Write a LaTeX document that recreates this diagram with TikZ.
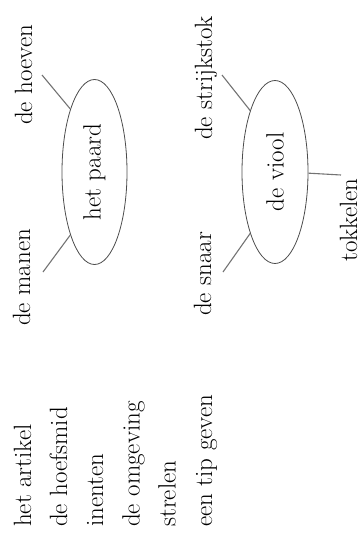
\documentclass[tikz,border=0pt]{standalone}
\usepackage{graphicx}
\usetikzlibrary{shapes.geometric}
\tikzset{
  lbl/.style={rotate=90, anchor=base west, inner sep=0pt, font=\fontsize{25}{30}\selectfont},
  oval/.style={ellipse, draw=black!70, line width=0.8pt, inner sep=0pt, font=\fontsize{25}{30}\selectfont},
  conn/.style={draw=black!55, line width=1.1pt}
}
\begin{document}
\begin{tikzpicture}[x=1pt,y=-1pt]
\useasboundingbox (0,0) rectangle (361,538);
% left word list
\node[lbl] (w1) at (31,527) {het artikel};
\node[lbl] (w2) at (67,527) {de hoefsmid};
\node[lbl] (w3) at (103,527) {inenten};
\node[lbl] (w4) at (139.5,527) {de omgeving};
\node[lbl] (w5) at (175.5,527) {strelen};
\node[lbl] (w6) at (212,527) {een tip geven};
% ellipses
\node[oval, minimum width=65pt, minimum height=185pt] (paard) at (94.5,172) {\rotatebox{90}{het paard}};
\node[oval, minimum width=66pt, minimum height=183pt] (viool) at (275,172) {\rotatebox{90}{de viool}};
% labels
\node[lbl] (hoeven) at (32,125) {de hoeven};
\node[lbl] (manen) at (30,326) {de manen};
\node[lbl] (strijk) at (212,140) {de strijkstok};
\node[lbl] (snaar) at (211,316) {de snaar};
\node[lbl] (tokkel) at (357,262) {tokkelen};
% free ends of connectors
\coordinate (hoevenE) at (42,75);
\coordinate (manenE) at (43,272);
\coordinate (strijkE) at (222,75);
\coordinate (snaarE) at (223,272);
\coordinate (tokkelE) at (341,175);
\draw[conn] (hoevenE) -- (paard.111);
\draw[conn] (manenE) -- (paard.249);
\draw[conn] (strijkE) -- (viool.112);
\draw[conn] (snaarE) -- (viool.248);
\draw[conn] (viool.-2) -- (tokkelE);
\end{tikzpicture}
\end{document}
